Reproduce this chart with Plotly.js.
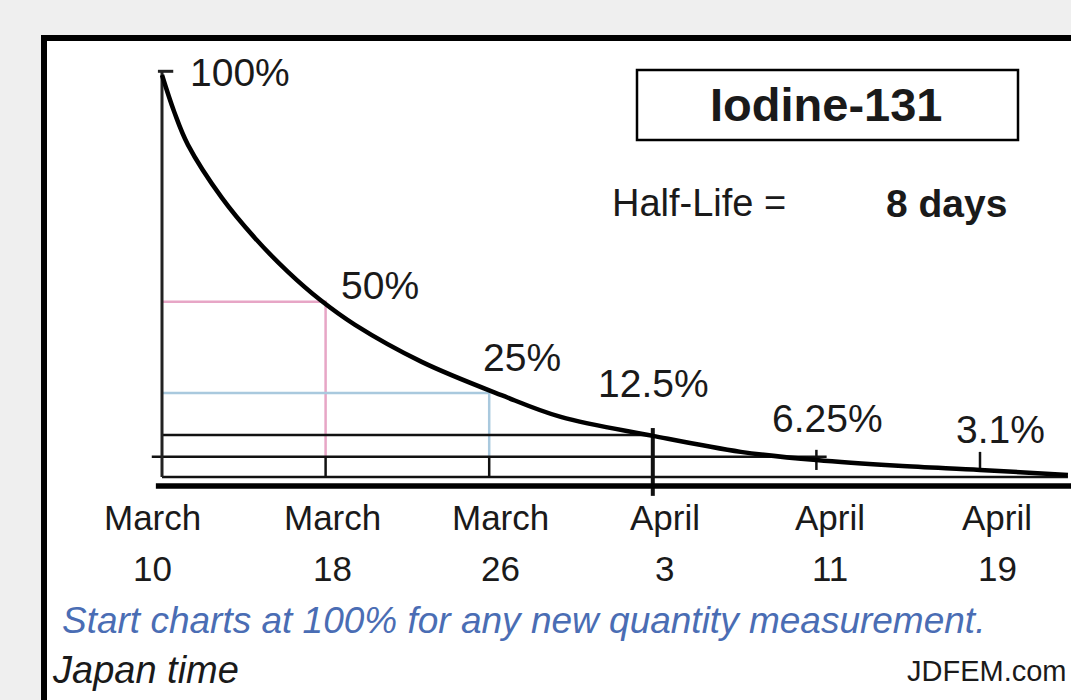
<!DOCTYPE html>
<html>
<head>
<meta charset="utf-8">
<script src="https://cdn.plot.ly/plotly-3.0.1.min.js"></script>
<style>html,body{margin:0;padding:0;background:#efefef;}#chart{width:1071px;height:700px;}</style>
</head>
<body>
<div id="chart"></div>
<script>
// ---- data ----
const decayDays = [0, 0.6, 1.27, 2.93, 4.55, 6.16, 7.73, 9.44, 12.7, 16.6, 19.5, 24, 28.3, 32, 36, 40, 44.3];
const decayPct  = [100, 91, 83, 70.1, 60.3, 52.1, 45.3, 39.2, 30.2, 22.1, 16.8, 12.2, 8.3, 6.3, 4.9, 3.9, 2.7];
const markDays   = [0, 8, 16, 24, 32, 40];
const monthLabels = ["March", "March", "March", "April", "April", "April"];
const dayLabels   = ["10", "18", "26", "3", "11", "19"];
const pctLabels   = ["100%", "50%", "25%", "12.5%", "6.25%", "3.1%"];
const pinkLevel = 44.8, blueLevel = 22.6;
const blackLevels = [12.4, 7.1, 2.2];
const blackEnds   = [24, 32.5, 44.3];
const blackStarts = [0, -0.5, 0];
const tickLow  = [7.1, 7.1, -2.4, 3.9, 3.9];
const tickHigh = [2.2, 2.2, 14.1, 8.8, 8.3];
const axisTop = 100.7;
const titleText = "Iodine-131";
const halfLifeText = "Half-Life =";
const halfLifeValue = "8 days";
const noteText = "Start charts at 100% for any new quantity measurement.";
const timeText = "Japan time";
const sourceText = "JDFEM.com";

// ---- helpers for page positions ----
const W = 1071, H = 700;
const PX = p => p / W, PY = p => 1 - p / H;
const FONT = "Liberation Sans, Arial, sans-serif";

const traces = [];
function line(xs, ys, color, width) {
  traces.push({x: xs, y: ys, mode: "lines", line: {color: color, width: width},
    hoverinfo: "skip", showlegend: false, cliponaxis: false});
}
// guide lines
line([0, markDays[1], markDays[1]], [pinkLevel, pinkLevel, blackLevels[1]], "#e7a6c6", 2.5);
line([0, markDays[2], markDays[2]], [blueLevel, blueLevel, blackLevels[1]], "#a9c9de", 2.5);
blackLevels.forEach((v, i) => line([blackStarts[i], blackEnds[i]], [v, v], "#111", 2.5));
// tick marks
markDays.slice(1).forEach((d, i) => line([d, d], [tickLow[i], tickHigh[i]], "#111", i === 2 ? 4 : 2.5));
// x axis (thick) and y axis
line([-0.3, 44.6], [0, 0], "#000", 5.5);
line([0, 0], [blackLevels[2], axisTop], "#222", 3);
line([-0.2, 0.55], [axisTop + 0.2, axisTop + 0.2], "#222", 3);
// decay curve
traces.push({x: decayDays, y: decayPct, mode: "lines",
  line: {color: "#000", width: 4.5, shape: "spline", smoothing: 1},
  hoverinfo: "skip", showlegend: false, cliponaxis: false});

const annotations = [];
function txt(text, x, y, size, opts) {
  annotations.push(Object.assign({text: text, x: PX(x), y: PY(y), xref: "paper", yref: "paper",
    showarrow: false, xanchor: "left", yanchor: "middle",
    font: {family: FONT, size: size, color: "#1a1a1a"}}, opts || {}));
}
// percentage labels
const pctX = [188, 339, 481, 596, 770, 954];
const pctY = [72, 285, 357, 383, 418, 429];
pctLabels.forEach((t, i) => txt(t, pctX[i], pctY[i], 39));
// title box text
txt("<b>" + titleText + "</b>", 826, 104, 47, {xanchor: "center"});
txt(halfLifeText, 610, 203, 38);
txt("<b>" + halfLifeValue + "</b>", 884, 203, 39);
// date labels
const labelShift = [-10, 7, 11, 12, 14, 17];
markDays.forEach((d, i) => {
  annotations.push({text: monthLabels[i], x: d, y: PY(517), xref: "x", yref: "paper", xshift: labelShift[i],
    showarrow: false, xanchor: "center", yanchor: "middle", font: {family: FONT, size: 35, color: "#1a1a1a"}});
  annotations.push({text: dayLabels[i], x: d, y: PY(568), xref: "x", yref: "paper", xshift: labelShift[i],
    showarrow: false, xanchor: "center", yanchor: "middle", font: {family: FONT, size: 35, color: "#1a1a1a"}});
});
txt("<i>" + noteText + "</i>", 60, 620, 37, {font: {family: FONT, size: 37, color: "#4a6db4"}});
txt("<i>" + timeText + "</i>", 50, 670, 38);
txt(sourceText, 1069, 671, 29, {xanchor: "right"});

const shapes = [
  {type: "rect", xref: "paper", yref: "paper", x0: PX(44), x1: PX(1090), y0: PY(38), y1: PY(720),
   line: {color: "#000", width: 6}, fillcolor: "#ffffff", layer: "below"},
  {type: "rect", xref: "paper", yref: "paper", x0: PX(637), x1: PX(1018), y0: PY(70), y1: PY(140),
   line: {color: "#000", width: 2.5}, fillcolor: "rgba(0,0,0,0)", layer: "above"}
];

const layout = {
  width: W, height: H,
  margin: {l: 0, r: 0, t: 0, b: 0},
  paper_bgcolor: "#efefef", plot_bgcolor: "rgba(0,0,0,0)",
  xaxis: {range: [-162 / 20.45, (W - 162) / 20.45], visible: false, fixedrange: true},
  yaxis: {range: [(486 - H) / 4.11, 486 / 4.11], visible: false, fixedrange: true},
  shapes: shapes, annotations: annotations, showlegend: false
};
Plotly.newPlot("chart", traces, layout, {displayModeBar: false, staticPlot: true});
</script>
</body>
</html>
